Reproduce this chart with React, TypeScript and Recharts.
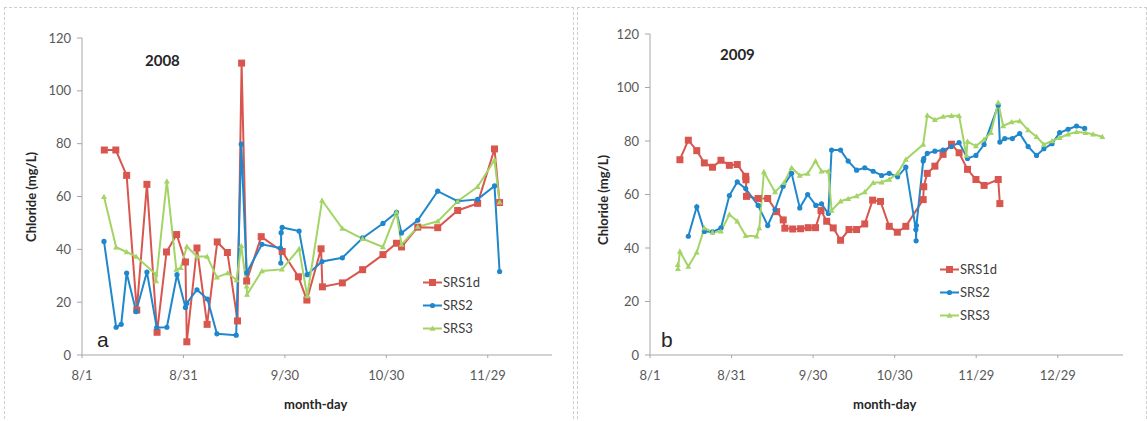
import React from "react";
import { LineChart, Line, XAxis, YAxis } from "recharts";

// days counted from 8/1
const tickDays2008 = [0, 30, 60, 90, 120];
const tickLabels2008 = ["8/1", "8/31", "9/30", "10/30", "11/29"];
const tickDays2009 = [0, 30, 60, 90, 120, 150];
const tickLabels2009 = ["8/1", "8/31", "9/30", "10/30", "11/29", "12/29"];
const yTicks = [0, 20, 40, 60, 80, 100, 120];

const srs1d2008Days = [6.6, 10, 13.2, 16.2, 19.2, 22.2, 25, 28, 30.6, 31, 34, 37, 40, 43, 46, 47.2, 48.7, 53, 59.2, 64, 66.5, 70.7, 71.1, 77, 83, 89, 93, 94.5, 99.3, 105.2, 111.1, 117, 122, 123.5];
const srs1d2008Vals = [77.6, 77.6, 68, 17, 64.6, 8.6, 39, 45.6, 35.2, 5, 40.5, 11.6, 42.8, 38.8, 12.9, 110.5, 28, 44.8, 39.2, 29.6, 20.8, 40.2, 25.8, 27.3, 32.3, 38, 42.3, 40.9, 48.4, 48.2, 54.7, 57.4, 78, 57.7];

const srs2_2008Days = [6.5, 10.1, 11.6, 13.2, 16, 19.2, 22.1, 25.1, 28.1, 30.6, 31, 34, 37.1, 39.9, 45.6, 47.1, 48.7, 53.2, 58.7, 58.8, 58.9, 59.2, 64.2, 66.6, 71, 77, 83, 89, 93, 94.5, 99.3, 105.2, 111.1, 117, 122, 123.5];
const srs2_2008Vals = [43, 10.5, 11.6, 31, 16.5, 31.4, 10.4, 10.5, 30.4, 18, 19.6, 24.7, 21.2, 8, 7.5, 79.8, 31.1, 41.9, 40.5, 34.8, 46.3, 48.3, 46.9, 30.4, 35.4, 36.8, 44.3, 49.8, 54, 46.2, 51, 62, 58.2, 58.9, 64, 31.6];

const srs3_2008Days = [6.5, 10.1, 13.2, 16, 21.8, 21.9, 25.1, 27.9, 29.2, 31, 34, 37, 39.9, 43.1, 45.7, 47.1, 48.7, 48.8, 53.2, 59.1, 64.2, 66.6, 71, 77, 83, 89, 93, 94.5, 99.3, 105.2, 111.1, 117, 122, 123.5];
const srs3_2008Vals = [59.9, 40.8, 39, 37.3, 30.6, 28, 65.8, 32.3, 33, 41.1, 37.3, 37.3, 29.4, 31, 28.4, 41.3, 26, 22.9, 31.8, 32.4, 40.2, 22.3, 58.5, 47.9, 44, 40.9, 54, 41.8, 48.5, 50.6, 58.2, 63.7, 73.8, 57.8];

const srs1d2009Days = [11, 14.1, 17.2, 20, 23, 26.1, 29.2, 32.1, 35.2, 35.3, 35.5, 39.8, 43.3, 46.6, 49, 49.6, 52.5, 55.4, 58.2, 60.9, 62.9, 65, 67.4, 70.1, 73.2, 76, 79, 81.9, 84.8, 88, 91, 94.1, 100.5, 100.7, 102, 104.8, 107.8, 110.9, 113.7, 116.8, 119.9, 122.9, 128.1, 128.7];
const srs1d2009Vals = [73, 80.3, 76.4, 71.8, 70.2, 72.8, 70.9, 71.2, 66.8, 65.5, 59.3, 58.5, 58.5, 53.6, 50.5, 47.4, 47.1, 47.2, 47.6, 47.6, 54, 50, 47.5, 42.9, 46.9, 46.9, 49, 57.9, 57.4, 48.1, 45.9, 48.1, 58.1, 62.9, 67.9, 70.6, 75, 78.8, 75.6, 69.4, 65.6, 63.4, 65.6, 56.6];

const srs2_2009Days = [14.1, 17.2, 20, 23, 26.1, 29.2, 32.1, 35.2, 39.8, 43.3, 46, 49, 52.1, 55.1, 58, 61, 63.1, 65.6, 66.8, 70.1, 72.9, 76, 79, 82.1, 85.2, 88, 91.1, 94.1, 97.8, 97.9, 98, 100.5, 100.7, 102, 104.8, 107.8, 110.9, 113.7, 116.8, 119.9, 122.9, 128.1, 128.7, 130.5, 133.3, 136, 139.1, 142.2, 144.9, 147.9, 150.7, 153.8, 156.9, 159.9];
const srs2_2009Vals = [44.4, 55.4, 46.2, 46, 47.5, 59.6, 64.7, 62.2, 55.9, 48.4, 54.4, 63.1, 67.9, 55, 60, 55.9, 56.5, 52.9, 76.6, 76.6, 72.5, 69.1, 70, 68.7, 67.1, 67.9, 66.6, 70.2, 46.9, 42.7, 48.4, 72.5, 73.4, 75.4, 76.2, 76.6, 77.9, 79.4, 73.5, 74.6, 78.7, 93.4, 79.6, 80.9, 80.9, 82.8, 77.9, 74.6, 77.1, 79, 83.1, 84.4, 85.6, 84.7];

const srs3_2009Days = [10.2, 10.3, 11, 14.1, 17.2, 20, 23, 26.1, 29.2, 32.1, 35.2, 39.2, 40.2, 41.9, 46, 49.3, 52.1, 55.1, 58, 60.9, 63.1, 65.6, 66.8, 70.1, 72.9, 76, 79, 82.1, 85.2, 88, 91.1, 94.1, 100.5, 102, 104.8, 107.8, 110.9, 113.7, 116.4, 116.8, 119.9, 122.9, 125.4, 128.1, 129.9, 133, 136, 139.1, 142.2, 144.9, 147.9, 150.7, 153.8, 156.9, 160.2, 163, 166.4];
const srs3_2009Vals = [33.7, 32.2, 38.7, 33.1, 38.4, 47.5, 45.9, 46.2, 52.5, 50, 44.6, 44.4, 47.5, 68.4, 60.9, 64.4, 70, 67.1, 67.8, 72.5, 68.7, 68.7, 54, 57.5, 58.4, 59.4, 60.9, 64.4, 64.6, 65.6, 67.9, 73.1, 78.7, 89.6, 87.9, 89.1, 89.4, 89.4, 74.6, 79.8, 78.1, 80.6, 83.1, 94.4, 85.6, 87.1, 87.5, 84.1, 81.6, 78.7, 80, 81.2, 82.5, 83.4, 83.1, 82.5, 81.6];

const seriesNames = ["SRS1d", "SRS2", "SRS3"];

const RED = "#d9564f";
const BLUE = "#1f87cc";
const GREEN = "#a3d465";
const FONT = "Lato, 'Open Sans', sans-serif";

const zip = (days: number[], vals: number[]) =>
  days.map((d, i) => ({ day: d, v: vals[i] }));

function SquareDot(props: any) {
  const { cx, cy, index } = props;
  if (cx == null || cy == null) return null;
  return <rect key={index} x={cx - 3.5} y={cy - 3.5} width={7} height={7} fill={RED} />;
}
function CircleDot(props: any) {
  const { cx, cy, index } = props;
  if (cx == null || cy == null) return null;
  return <circle key={index} cx={cx} cy={cy} r={2.6} fill={BLUE} />;
}
function TriDot(props: any) {
  const { cx, cy, index } = props;
  if (cx == null || cy == null) return null;
  return (
    <path key={index} d={`M${cx},${cy - 3} L${cx + 3},${cy + 2.2} L${cx - 3},${cy + 2.2} Z`} fill={GREEN} />
  );
}

function LegendBox({ left, top }: { left: number; top: number }) {
  const colors = [RED, BLUE, GREEN];
  const marks = [
    <rect x={6} y={3} width={7} height={7} fill={RED} />,
    <circle cx={9.5} cy={6.5} r={2.6} fill={BLUE} />,
    <path d="M9.5,3.5 L12.5,8.7 L6.5,8.7 Z" fill={GREEN} />,
  ];
  return (
    <div style={{ position: "absolute", left, top, fontFamily: FONT, fontSize: 13, color: "#404040" }}>
      {seriesNames.map((name, i) => (
        <div key={name} style={{ position: "absolute", left: 0, top: i * 23, display: "flex", alignItems: "center", height: 16, whiteSpace: "nowrap" }}>
          <svg width={19} height={13} style={{ display: "block" }}>
            <line x1={0} y1={6.5} x2={19} y2={6.5} stroke={colors[i]} strokeWidth={2} />
            {marks[i]}
          </svg>
          <span style={{ marginLeft: 1, lineHeight: "16px" }}>{name}</span>
        </div>
      ))}
    </div>
  );
}

interface PanelProps {
  width: number;
  top: number;
  left: number;
  right: number;
  xMax: number;
  tickDays: number[];
  tickLabels: string[];
  red: { day: number; v: number }[];
  blue: { day: number; v: number }[];
  green: { day: number; v: number }[];
}

function Panel(p: PanelProps) {
  return (
    <LineChart
      width={p.width}
      height={421}
      margin={{ top: p.top, right: p.right, left: p.left - 48, bottom: 36 }}
    >
      <XAxis
        type="number"
        dataKey="day"
        domain={[0, p.xMax]}
        ticks={p.tickDays}
        tickFormatter={(d: number) => p.tickLabels[p.tickDays.indexOf(d)]}
        allowDataOverflow
        height={30}
        tick={{ fill: "#595959", fontSize: 13, fontFamily: FONT }}
        axisLine={{ stroke: "#a6a6a6" }}
        tickLine={{ stroke: "#a6a6a6" }}
        tickSize={3}
        tickMargin={13}
      />
      <YAxis
        type="number"
        domain={[0, 120]}
        ticks={yTicks}
        width={48}
        tick={{ fill: "#595959", fontSize: 13, fontFamily: FONT }}
        axisLine={{ stroke: "#a6a6a6" }}
        tickLine={{ stroke: "#a6a6a6" }}
        tickSize={5}
        tickMargin={6}
      />
      <Line data={p.red} dataKey="v" stroke={RED} strokeWidth={2} dot={SquareDot} activeDot={false} isAnimationActive={false} />
      <Line data={p.blue} dataKey="v" stroke={BLUE} strokeWidth={2} dot={CircleDot} activeDot={false} isAnimationActive={false} />
      <Line data={p.green} dataKey="v" stroke={GREEN} strokeWidth={2} dot={TriDot} activeDot={false} isAnimationActive={false} />
    </LineChart>
  );
}

const textStyle: React.CSSProperties = {
  position: "absolute",
  fontFamily: FONT,
  color: "#262626",
  whiteSpace: "nowrap",
};

export default function App() {
  return (
    <div style={{ position: "fixed", left: 0, top: 0, width: 1147, height: 421, background: "#fff", overflow: "hidden" }}>
      <div style={{ position: "absolute", left: 4, top: 7, width: 568, height: 420, border: "1px dashed #cfcfcf" }} />
      <div style={{ position: "absolute", left: 577, top: 7, width: 568, height: 420, border: "1px dashed #cfcfcf" }} />

      <div style={{ position: "absolute", left: 0, top: 0 }}>
        <Panel
          width={573}
          top={38}
          left={82}
          right={21}
          xMax={139}
          tickDays={tickDays2008}
          tickLabels={tickLabels2008}
          red={zip(srs1d2008Days, srs1d2008Vals)}
          blue={zip(srs2_2008Days, srs2_2008Vals)}
          green={zip(srs3_2008Days, srs3_2008Vals)}
        />
      </div>
      <div style={{ position: "absolute", left: 576, top: 0 }}>
        <Panel
          width={571}
          top={34}
          left={74}
          right={24}
          xMax={174}
          tickDays={tickDays2009}
          tickLabels={tickLabels2009}
          red={zip(srs1d2009Days, srs1d2009Vals)}
          blue={zip(srs2_2009Days, srs2_2009Vals)}
          green={zip(srs3_2009Days, srs3_2009Vals)}
        />
      </div>

      <LegendBox left={423} top={274} />
      <LegendBox left={940} top={261} />

      <div style={{ ...textStyle, left: 145, top: 51, fontSize: 15, fontWeight: 700 }}>2008</div>
      <div style={{ ...textStyle, left: 720, top: 45, fontSize: 15, fontWeight: 700 }}>2009</div>
      <div style={{ ...textStyle, left: 97, top: 328, fontSize: 21, fontFamily: "'Liberation Sans', Arial, sans-serif" }}>a</div>
      <div style={{ ...textStyle, left: 661, top: 328, fontSize: 21, fontFamily: "'Liberation Sans', Arial, sans-serif" }}>b</div>
      <div style={{ ...textStyle, left: 284, top: 396, fontSize: 13, fontWeight: 700 }}>month-day</div>
      <div style={{ ...textStyle, left: 853, top: 396, fontSize: 13, fontWeight: 700 }}>month-day</div>
      <div style={{ ...textStyle, left: 31, top: 197, fontSize: 13, fontWeight: 700, transform: "translate(-50%, -50%) rotate(-90deg)" }}>
        Chloride (mg/L)
      </div>
      <div style={{ ...textStyle, left: 603, top: 200, fontSize: 13, fontWeight: 700, transform: "translate(-50%, -50%) rotate(-90deg)" }}>
        Chloride (mg/L)
      </div>
    </div>
  );
}
